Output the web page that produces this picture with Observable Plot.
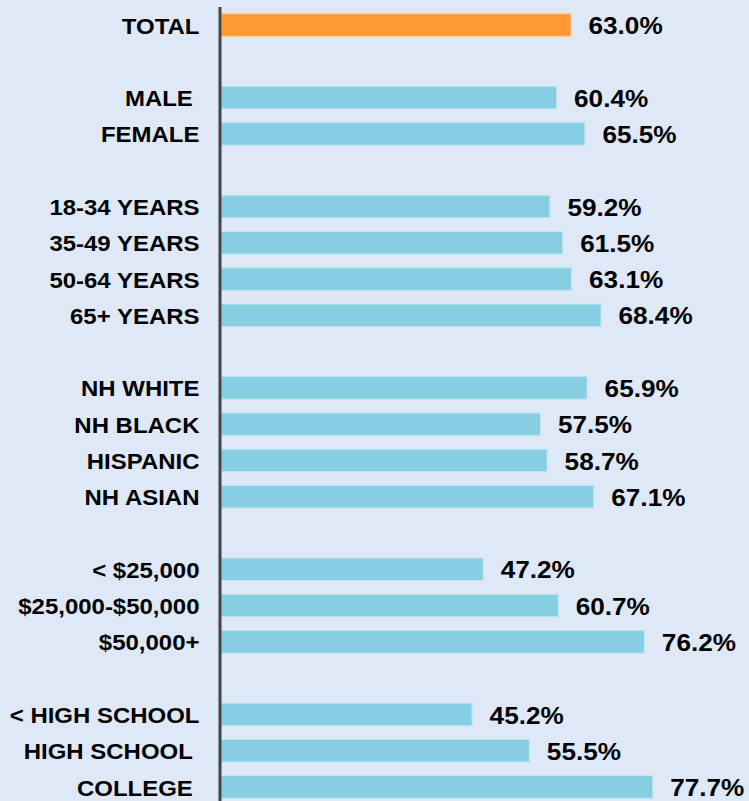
<!DOCTYPE html>
<html>
<head>
<meta charset="utf-8">
<script src="https://cdn.jsdelivr.net/npm/d3@7"></script>
<script src="https://cdn.jsdelivr.net/npm/@observablehq/plot@0.6"></script>
<style>
  html, body { margin: 0; padding: 0; background: #dfe8f6; }
  #chart { width: 749px; height: 801px; overflow: hidden; }
  #chart svg { display: block; }
</style>
</head>
<body>
<div id="chart"></div>
<script>
const categories = ["TOTAL", "MALE\u00a0", "FEMALE", "18-34 YEARS", "35-49 YEARS", "50-64 YEARS", "65+ YEARS",
  "NH WHITE", "NH BLACK", "HISPANIC", "NH ASIAN", "< $25,000", "$25,000-$50,000", "$50,000+",
  "< HIGH SCHOOL", "HIGH SCHOOL\u00a0", "COLLEGE\u00a0"];
const values = [63.0, 60.4, 65.5, 59.2, 61.5, 63.1, 68.4, 65.9, 57.5, 58.7, 67.1, 47.2, 60.7, 76.2, 45.2, 55.5, 77.7];
const groups = ["total", "sex", "sex", "age", "age", "age", "age", "race", "race", "race", "race",
  "income", "income", "income", "edu", "edu", "edu"];
const valueLabels = values.map(v => v.toFixed(1) + "%");

// build slot domain with blank gaps between groups
const data = categories.map((c, i) => ({label: c, value: values[i], group: groups[i], text: valueLabels[i], key: "k" + i}));
const slots = [];
data.forEach((d, i) => {
  if (i > 0 && groups[i] !== groups[i - 1]) slots.push("gap" + i);
  slots.push(d.key);
});

const chart = Plot.plot({
  width: 749,
  height: 801,
  marginTop: 7,
  marginBottom: 0,
  marginLeft: 221,
  marginRight: 28,
  style: {background: "transparent", fontFamily: "'Liberation Sans', Arial, sans-serif"},
  x: {domain: [0, 90], range: [221, 721], axis: null},
  y: {domain: slots, range: [0, 812], padding: 0.38, round: false, axis: null},
  marks: [
    Plot.barX(data, {
      x: "value", y: "key",
      fill: d => d.group === "total" ? "#ff9a33" : "#86cee2",
      stroke: d => d.group === "total" ? "#ffc58a" : "#bfe5f0",
      strokeWidth: 1
    }),
    Plot.ruleX([0], {stroke: "#444444", strokeWidth: 3, dx: -1.5}),
    Plot.text(data, {
      x: 0, y: "key", text: "label", textAnchor: "end", dx: -22, dy: 1,
      fontSize: 22, fontWeight: "bold", fill: "#000"
    }),
    Plot.text(data, {
      x: "value", y: "key", text: "text", textAnchor: "start", dx: 17, dy: 1,
      fontSize: 24, fontWeight: "bold", fill: "#000"
    })
  ]
});
document.getElementById("chart").appendChild(chart);

// slight horizontal stretch of text to match the reference typography
d3.select(chart).selectAll("text").each(function() {
  const t = d3.select(this);
  let tr = t.attr("transform");
  if (!tr) {
    const x = +(t.attr("x") || 0), y = +(t.attr("y") || 0);
    tr = `translate(${x},${y})`;
    t.attr("x", null).attr("y", null);
  }
  t.attr("transform", tr + " scale(1.09,1)");
});
</script>
</body>
</html>
